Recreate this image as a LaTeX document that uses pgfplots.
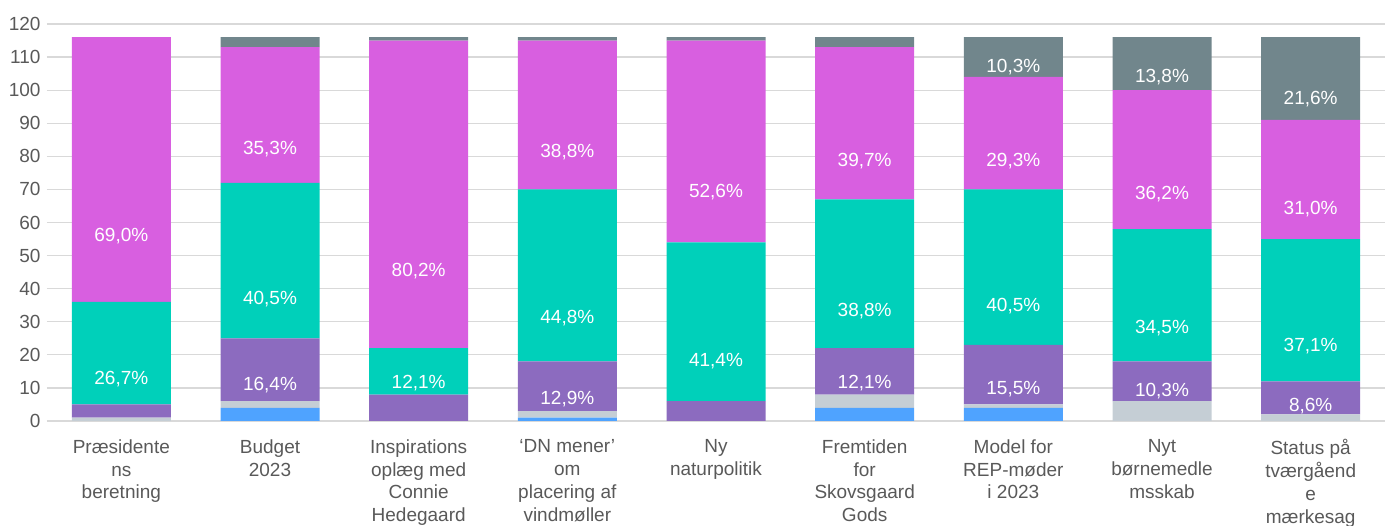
\documentclass[border=0pt]{standalone}
\usepackage{pgfplots}
\pgfplotsset{compat=1.18}
\usepackage{pgfplotstable}
\usepackage{fontspec}
\setmainfont{Liberation Sans}

\definecolor{cblue}{HTML}{4FA3FF}
\definecolor{clgray}{HTML}{C5CED5}
\definecolor{cpurple}{HTML}{8C6BBF}
\definecolor{cteal}{HTML}{00D0BA}
\definecolor{cmag}{HTML}{D85FE0}
\definecolor{cdgray}{HTML}{71868C}
\definecolor{ctext}{HTML}{595959}
\definecolor{cgrid}{HTML}{D9D9D9}

\pgfplotstableread{
x y lab
0 0 {}
1 4 {}
2 0 {}
3 1 {}
4 0 {}
5 4 {}
6 4 {}
7 0 {}
8 0 {}
}\tblue
\pgfplotstableread{
x y lab
0 1 {}
1 2 {}
2 0 {}
3 2 {}
4 0 {}
5 4 {}
6 1 {}
7 6 {}
8 2 {}
}\tlgray
\pgfplotstableread{
x y lab
0 4 {}
1 19 {16,4\%}
2 8 {}
3 15 {12,9\%}
4 6 {}
5 14 {12,1\%}
6 18 {15,5\%}
7 12 {10,3\%}
8 10 {8,6\%}
}\tpurple
\pgfplotstableread{
x y lab
0 31 {26,7\%}
1 47 {40,5\%}
2 14 {12,1\%}
3 52 {44,8\%}
4 48 {41,4\%}
5 45 {38,8\%}
6 47 {40,5\%}
7 40 {34,5\%}
8 43 {37,1\%}
}\tteal
\pgfplotstableread{
x y lab
0 80 {69,0\%}
1 41 {35,3\%}
2 93 {80,2\%}
3 45 {38,8\%}
4 61 {52,6\%}
5 46 {39,7\%}
6 34 {29,3\%}
7 42 {36,2\%}
8 36 {31,0\%}
}\tmag
\pgfplotstableread{
x y lab
0 0 {}
1 3 {}
2 1 {}
3 1 {}
4 1 {}
5 3 {}
6 12 {10,3\%}
7 16 {13,8\%}
8 25 {21,6\%}
}\tdgray

\begin{document}
\begin{tikzpicture}
\begin{axis}[
  scale only axis, width=1338pt, height=397pt,
  ybar stacked, bar width=99pt,
  xmin=-0.5, xmax=8.5, ymin=0, ymax=120,
  ytick={0,10,...,120},
  xtick={0,...,8},
  xticklabels={{Præsidente\\ns\\beretning},{Budget\\2023},{Inspirations\\oplæg med\\Connie\\Hedegaard},{‘DN mener’\\om\\placering af\\vindmøller},{Ny\\naturpolitik},{Fremtiden\\for\\Skovsgaard\\Gods},{Model for\\REP-møder\\i 2023},{Nyt\\børnemedle\\msskab},{Status på\\tværgåend\\e\\mærkesag}},
  axis line style={draw=none},
  major tick length=0pt,
  ymajorgrids, major grid style={draw=cgrid, line width=1.2pt},
  /pgf/number format/assume math mode=true,
  tick label style={font=\fontsize{19}{22.8}\selectfont, text=ctext},
  xticklabel style={align=center, yshift=-15pt},
  yticklabel style={xshift=-3pt},
  point meta=explicit symbolic,
  nodes near coords,
  visualization depends on={\thisrow{y} \as \rawy},
  every node near coord/.append style={font=\fontsize{19}{23}\selectfont, text=white, anchor=center, shift={(axis direction cs:0,-\rawy/4)}},
]
\addplot[fill=cblue, draw=none] table[x=x, y=y, meta=lab] {\tblue};
\addplot[fill=clgray, draw=none] table[x=x, y=y, meta=lab] {\tlgray};
\addplot[fill=cpurple, draw=none] table[x=x, y=y, meta=lab] {\tpurple};
\addplot[fill=cteal, draw=none] table[x=x, y=y, meta=lab] {\tteal};
\addplot[fill=cmag, draw=none] table[x=x, y=y, meta=lab] {\tmag};
\addplot[fill=cdgray, draw=none] table[x=x, y=y, meta=lab] {\tdgray};
\end{axis}
\pgfresetboundingbox
\path[use as bounding box] ([shift={(-47pt,-105pt)}]current axis.south west) rectangle ([shift={(6pt,24pt)}]current axis.north east);
\end{tikzpicture}
\end{document}
